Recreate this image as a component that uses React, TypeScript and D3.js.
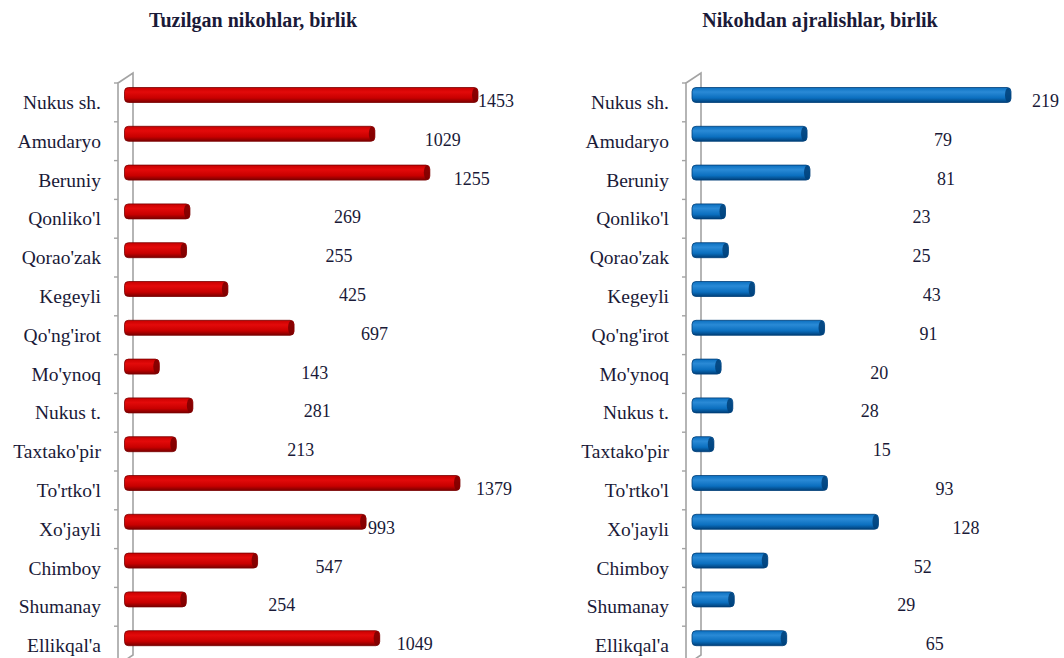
import React, { useEffect, useRef } from 'react';
import * as d3 from 'd3';

// districts, top to bottom
const districts = [
  'Nukus sh.', 'Amudaryo', 'Beruniy', "Qonliko'l", "Qorao'zak", 'Kegeyli', "Qo'ng'irot",
  "Mo'ynoq", 'Nukus t.', "Taxtako'pir", "To'rtko'l", "Xo'jayli", 'Chimboy', 'Shumanay', "Ellikqal'a"
];
const marriages = [1453, 1029, 1255, 269, 255, 425, 697, 143, 281, 213, 1379, 993, 547, 254, 1049];
const divorces = [219, 79, 81, 23, 25, 43, 91, 20, 28, 15, 93, 128, 52, 29, 65];

const titleLeft = 'Tuzilgan nikohlar, birlik';
const titleRight = 'Nikohdan ajralishlar, birlik';

// the value labels in the source were dragged around by hand, px past the bar end
const marriageLabelNudge = [0, 50, 24, 144, 139, 111, 67, 142, 111, 111, 16, 2, 58, 82, 17];
const divorceLabelNudge = [21, 127, 127, 187, 184, 168, 95, 149, 128, 159, 108, 74, 146, 163, 139];

const FONT = '"Liberation Serif", "Times New Roman", serif';
const TEXT = '#1a1a38';
const AXIS = '#a3a3a3';

function drawPanel(svg, opts) {
  var g = svg.append('g');
  var y = d3.scaleBand().domain(districts).range([83, 665]);
  var x = d3.scaleLinear()
    .domain([0, d3.max(opts.values)])
    .range([opts.barStart, opts.barEnd]);
  var depth = { dx: 15, dy: -10 };
  var barH = 15;

  // title
  g.append('text')
    .attr('x', opts.titleX)
    .attr('y', 27)
    .attr('text-anchor', 'middle')
    .attr('font-family', FONT)
    .attr('font-weight', 'bold')
    .attr('font-size', 20)
    .attr('fill', TEXT)
    .text(opts.title);

  // 3d wall edges
  var top = y.range()[0], bottom = y.range()[1];
  g.append('path')
    .attr('d', 'M' + opts.axisX + ',' + bottom + 'V' + top + 'L' + (opts.axisX + depth.dx) + ',' + (top + depth.dy) +
      'V' + (bottom + depth.dy) + 'L' + opts.axisX + ',' + bottom)
    .attr('fill', 'none')
    .attr('stroke', AXIS)
    .attr('stroke-width', 1.6);

  // tick marks at band boundaries
  g.selectAll('.tick')
    .data(districts)
    .enter()
    .append('line')
    .attr('x1', opts.axisX - 4)
    .attr('x2', opts.axisX)
    .attr('y1', function (d) { return y(d); })
    .attr('y2', function (d) { return y(d); })
    .attr('stroke', AXIS)
    .attr('stroke-width', 1.4);

  // category labels
  g.selectAll('.cat')
    .data(districts)
    .enter()
    .append('text')
    .attr('x', opts.axisX - 17)
    .attr('y', function (d) { return y(d) + 26; })
    .attr('text-anchor', 'end')
    .attr('font-family', FONT)
    .attr('font-size', 19.5)
    .attr('fill', TEXT)
    .text(function (d) { return d; });

  // gradient for the cylinder look
  var defs = svg.append('defs');
  var grad = defs.append('linearGradient')
    .attr('id', opts.id + '-grad')
    .attr('x1', 0).attr('y1', 0).attr('x2', 0).attr('y2', 1);
  grad.append('stop').attr('offset', '0%').attr('stop-color', opts.colors[1]);
  grad.append('stop').attr('offset', '30%').attr('stop-color', opts.colors[0]);
  grad.append('stop').attr('offset', '70%').attr('stop-color', opts.colors[1]);
  grad.append('stop').attr('offset', '100%').attr('stop-color', opts.colors[2]);

  var bars = g.selectAll('.bar')
    .data(opts.values)
    .enter()
    .append('g')
    .attr('transform', function (d, i) { return 'translate(0,' + (y(districts[i]) + 12 - barH / 2) + ')'; });

  bars.append('rect')
    .attr('x', x(0))
    .attr('y', 0)
    .attr('width', function (d) { return x(d) - x(0); })
    .attr('height', barH)
    .attr('rx', 4)
    .attr('fill', 'url(#' + opts.id + '-grad)')
    .attr('stroke', opts.colors[2])
    .attr('stroke-width', 0.8);

  // darker end cap
  bars.append('ellipse')
    .attr('cx', function (d) { return x(d) - 3; })
    .attr('cy', barH / 2)
    .attr('rx', 3)
    .attr('ry', barH / 2 - 0.5)
    .attr('fill', opts.colors[2])
    .attr('opacity', 0.85);

  // value labels
  g.selectAll('.val')
    .data(opts.values)
    .enter()
    .append('text')
    .attr('x', function (d, i) { return x(d) + opts.nudge[i]; })
    .attr('y', function (d, i) { return y(districts[i]) + 24; })
    .attr('font-family', FONT)
    .attr('font-size', 18)
    .attr('fill', TEXT)
    .text(function (d) { return d; });
}

export default function App() {
  const ref = useRef(null);

  useEffect(() => {
    var svg = d3.select(ref.current);
    svg.selectAll('*').remove();

    drawPanel(svg, {
      id: 'left',
      title: titleLeft,
      titleX: 253,
      values: marriages,
      nudge: marriageLabelNudge,
      axisX: 118,
      barStart: 124.5,
      barEnd: 478,
      colors: ['#e30a0a', '#c80000', '#7a0000']
    });

    drawPanel(svg, {
      id: 'right',
      title: titleRight,
      titleX: 820,
      values: divorces,
      nudge: divorceLabelNudge,
      axisX: 686,
      barStart: 692,
      barEnd: 1011,
      colors: ['#2a8ad6', '#0b6fbf', '#003f78']
    });
  }, []);

  return (
    <svg ref={ref} width={1064} height={658}
      style={{ position: 'absolute', left: 0, top: 0, background: '#fff' }} />
  );
}
